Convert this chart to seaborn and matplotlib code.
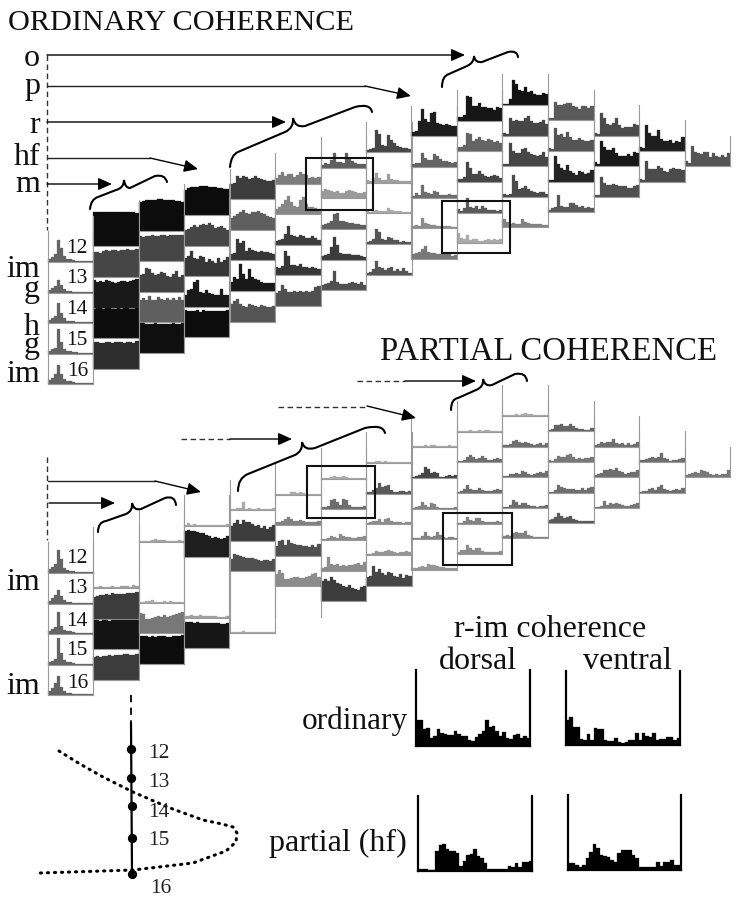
import matplotlib
matplotlib.use('Agg')
import matplotlib.pyplot as plt
import seaborn as sns
import numpy as np
from matplotlib.path import Path
from matplotlib.patches import PathPatch, Rectangle

ord_col0 = [[3,5,8,22,14,6,3,3,2,1,1,1,1,1,1], [3,5,7,13,8,4,2,2,1,1,1,1,1,1,1],
            [3,5,7,20,10,5,2,2,2,1,1,1,1,1,1], [3,5,6,25,12,5,3,3,2,2,1,1,1,1,1],
            [4,6,10,19,10,5,3,3,2,1,1,1,1,1,1]]
ord_col1 = [[34,34,34,34,34,34,34,34,34,34,34,34,34,34,33], [25,25,24,26,27,26,27,27,26,27,27,28,27,27,28],
            [27,25,26,25,27,26,25,24,25,26,26,25,26,27,28], [29,30,30,29,30,30,29,29,30,29,30,30,29,29,30],
            [27,27,26,26,27,27,26,27,27,27,26,27,27,26,28]]
ord_col2 = [[29,30,31,31,31,31,32,32,31,31,31,31,30,30,29], [25,24,25,25,26,25,25,26,26,25,26,26,26,26,26],
            [17,18,24,23,19,17,18,20,19,16,15,18,21,15,17], [22,24,22,26,22,22,25,23,22,24,22,24,22,25,22],
            [30,30,29,29,29,30,29,29,29,29,29,30,29,29,30]]
ord_col3 = [[25,27,28,28,28,29,29,29,28,28,28,27,27,26,26], [16,17,19,21,19,21,22,21,23,21,18,19,20,18,16],
            [18,20,25,18,17,20,19,14,17,15,13,18,14,16,19], [12,17,18,25,27,15,14,17,14,13,12,12,18,12,12],
            [27,26,26,26,27,25,27,26,26,26,26,26,26,26,27]]
ord_col4 = [[15,16,23,21,23,22,20,21,23,21,20,19,18,18,19], [12,14,16,18,20,17,16,18,18,19,17,16,14,13,12],
            [6,7,21,17,19,9,12,10,9,8,9,8,8,7,6], [9,14,12,27,17,12,22,14,12,11,9,8,8,8,8],
            [18,21,23,18,16,15,18,17,16,15,17,16,15,15,16]]
ord_col5 = [[6,9,12,8,10,10,7,9,12,10,9,6,7,6,7], [5,7,10,14,18,12,8,7,14,17,10,7,7,6,5],
            [4,5,6,11,19,10,9,8,10,9,7,7,9,7,5], [8,7,9,24,19,10,10,9,11,8,8,7,8,7,6],
            [13,15,21,17,14,14,15,14,15,14,15,14,15,19,20]]
ord_col6 = [[3,5,4,8,15,6,6,5,15,9,7,5,4,4,4], [7,9,8,7,6,7,5,5,7,8,7,6,5,5,6],
            [4,5,6,8,15,16,8,8,7,6,6,5,5,4,4], [4,5,6,13,23,15,7,6,6,6,5,5,5,4,3],
            [5,6,7,9,19,8,6,6,6,7,8,7,6,8,5]]
ord_col7 = [[2,3,4,22,18,7,6,17,12,9,6,5,4,4,3], [3,2,5,10,5,3,3,9,4,3,3,2,2,2,2],
            [3,1,2,3,2,2,2,5,3,2,2,2,1,1,1], [2,3,5,15,12,5,4,7,6,4,4,2,3,2,2],
            [2,3,6,14,8,7,5,7,8,4,6,4,7,4,2]]
ord_col8 = [[4,5,15,27,17,14,23,24,13,12,11,12,11,10,10], [3,4,4,14,9,7,7,13,11,8,6,6,5,4,5],
            [2,5,3,13,6,5,4,7,6,3,3,3,4,3,3], [2,3,2,10,5,4,3,3,2,2,2,2,2,1,1],
            [5,6,7,10,13,7,6,6,5,5,6,5,6,3,4]]
ord_col9 = [[4,4,6,25,24,15,15,18,14,14,13,13,11,14,13], [4,4,6,18,17,10,12,14,11,10,12,11,9,10,8],
            [3,3,5,20,14,8,8,11,8,6,5,6,7,6,4], [4,2,5,15,6,5,7,4,7,5,3,3,3,2,3],
            [10,5,4,8,3,4,4,2,2,3,4,3,4,3,4]]
ord_col10 = [[1,1,6,25,21,15,14,18,13,14,11,10,10,12,11], [3,2,18,15,16,15,15,18,20,15,13,13,14,16,12],
             [2,2,23,15,13,13,17,18,14,12,11,10,11,14,9], [3,2,3,22,16,8,9,11,8,6,5,4,5,5,3],
             [8,5,3,4,3,3,8,5,4,3,3,3,3,2,2]]
ord_col11 = [[2,2,18,15,15,16,17,17,14,13,11,14,14,12,14], [3,2,23,16,17,14,19,14,11,11,13,11,10,10,11],
             [2,2,26,18,14,12,17,11,9,7,11,10,8,9,12], [2,4,5,17,6,5,5,9,9,7,5,6,4,5,4]]
ord_col12 = [[3,2,23,18,12,11,13,18,11,8,9,9,9,12,11], [4,2,25,19,16,16,18,13,10,10,10,12,10,14,13],
             [2,2,20,14,12,12,13,12,11,11,11,9,9,11,12]]
ord_col13 = [[4,3,26,18,15,15,21,12,10,10,11,8,10,9,14], [3,2,21,13,13,13,16,14,11,10,13,14,13,13,12]]
ord_col14 = [[5,3,20,14,13,12,14,14,9,13,10,9,11,9,13]]

par_col0 = [[4,6,9,23,14,5,3,2,2,1,1,1,1,1,1], [3,6,9,14,8,4,2,2,1,1,1,1,1,1,1],
            [3,5,7,22,8,4,3,3,2,1,1,1,1,1,1], [3,4,6,27,12,5,3,3,2,1,1,1,1,1,1],
            [4,7,12,19,8,4,2,2,1,1,1,1,1,1,1]]
par_col1 = [[], [1,1,2,1,1,1,2,1,1,2,2,2,1,3,2], [22,23,24,24,25,24,26,25,25,25,25,26,26,26,27],
            [29,29,28,29,29,28,29,29,29,29,29,29,29,29,29], [23,24,23,24,24,25,24,25,25,25,26,26,25,25,26]]
par_col2 = [[1,1,1,1,2,3,2,2,2,1,1,1,1,2,1], [], [1,1,2,2,3,1,1,1,2,1,2,1,1,1,1],
            [20,19,14,14,15,16,17,16,18,16,17,18,19,20,21], [28,28,28,27,28,27,28,28,28,27,27,28,28,28,29]]
par_col3 = [[1,3,1,2,1,1,1,1,1,1,1,1,1,1,2], [26,27,26,26,25,24,24,22,21,19,20,19,18,19,21], [],
            [2,2,3,2,2,3,2,2,2,2,2,1,1,1,2], [26,26,26,25,26,25,25,25,25,25,25,25,24,24,25]]
par_col4 = [[1,1,2,2,8,1,2,1,1,2,1,1,1,1,2], [15,18,21,17,21,19,19,17,15,16,13,15,12,14,16],
            [12,17,16,15,14,13,13,13,12,11,10,11,11,10,12], [], [1,1,1,1,2,1,1,1,1,1,1,1,1,1,1]]
par_col5 = [[1,1,1,1,1,3,3,2,3,2,1,1,1,1,1], [3,3,4,6,8,6,4,4,5,4,3,3,3,3,4],
            [10,15,16,11,16,13,12,11,11,10,10,9,11,9,12], [12,16,13,7,7,8,9,9,8,8,9,10,12,13,9], []]
par_col6 = [[1,1,1,2,3,2,2,3,2,1,1,1,1,1,1], [2,2,3,9,10,7,4,10,9,4,2,2,2,2,3],
            [1,1,2,4,3,2,6,4,3,3,2,2,3,3,4], [3,4,14,7,6,7,5,6,5,6,6,7,8,6,9],
            [20,22,20,24,21,18,17,15,14,16,13,12,11,14,15]]
par_col7 = [[1,1,1,2,2,1,2,1,1,1,1,1,1,1,1], [2,2,4,6,11,7,8,9,4,2,2,3,3,2,3],
            [1,2,3,3,5,2,5,6,3,2,2,2,1,2,2], [1,1,2,4,3,3,4,5,4,3,2,3,3,4,3],
            [9,10,20,14,17,13,11,14,13,10,9,12,8,11,10]]
par_col8 = [[1,1,1,1,2,1,2,2,1,1,1,1,2,1,1], [1,2,3,5,11,9,5,6,5,1,1,2,3,2,3],
            [1,2,3,7,4,2,6,5,2,1,1,1,1,1,2], [1,1,1,3,7,3,2,3,7,4,2,1,2,2,1],
            [2,2,3,4,3,6,5,5,4,3,3,2,2,2,2]]
par_col9 = [[1,1,1,1,2,1,1,2,1,2,2,1,1,1,1], [1,1,2,5,7,5,3,4,6,4,2,2,3,4,3],
            [1,2,4,8,4,3,3,5,3,2,2,2,3,4,3], [1,1,3,7,4,3,6,6,3,2,2,2,2,3,2],
            [2,4,4,9,6,4,6,6,3,2,2,2,2,2,3]]
par_col10 = [[1,1,1,1,2,1,2,3,2,2,1,1,1,1,1], [2,2,3,6,7,5,4,5,4,3,2,3,4,2,4],
             [1,1,3,3,4,3,6,5,3,2,3,4,5,4,6], [1,1,3,8,6,3,5,5,3,2,2,1,2,2,3],
             [2,3,2,5,6,5,5,7,3,2,1,1,1,1,1]]
par_col11 = [[1,2,6,6,7,5,5,7,5,3,2,2,1,1,3], [2,1,3,6,5,5,7,8,5,3,4,3,4,4,5],
             [1,1,3,8,6,5,4,4,4,3,3,5,3,5,6], [3,4,6,10,7,5,6,7,4,3,2,2,2,2,2]]
par_col12 = [[2,3,5,4,5,5,8,4,3,4,2,4,2,3,5], [2,3,4,7,7,8,7,9,6,5,3,4,5,5,7],
             [1,1,2,7,3,5,4,5,4,3,2,2,3,4,5]]
par_col13 = [[2,2,3,4,5,4,5,9,4,3,1,2,2,3,4], [1,2,2,4,5,3,6,8,4,3,2,3,4,3,5]]
par_col14 = [[2,3,4,5,4,7,6,5,3,2,3,2,3,3,7]]

ord_gray = [[100]*5, [12,70,25,12,45], [12,70,65,95,15], [12,70,55,25,12], [60,95,55,25,85],
            [125,135,60,55,80], [95,155,95,60,80], [70,160,170,85,85], [30,100,110,140,120],
            [22,100,70,90,170], [18,70,70,75,130], [90,85,35,90], [75,25,80], [30,75], [85]]
par_gray = [[100]*5, [160,160,60,20,60], [165,160,170,120,12], [170,30,170,160,22],
            [170,60,80,170,170], [170,130,80,140,170], [170,110,140,140,60], [170,90,140,150,70],
            [170,70,130,130,150], [170,110,110,130,140], [170,110,110,110,130], [100,120,110,90],
            [110,110,120], [110,110], [120]]

dorsal_ordinary = [26,26,17,18,8,10,17,13,12,11,11,15,12,10,10,6,5,9,12,15,26,19,20,15,10,14,8,7,11,12,8,10,8]
ventral_ordinary = [25,28,18,18,6,5,11,5,17,16,16,5,4,4,7,3,2,3,5,5,12,5,12,9,8,12,5,6,6,8,8,5,7]
dorsal_partial = [2,2,2,1,1,20,26,27,22,20,20,18,5,10,16,17,22,15,13,8,2,2,2,2,2,2,5,4,8,4,9,9,10]
ventral_partial = [7,7,5,3,5,12,18,26,22,15,14,13,10,8,17,20,20,20,15,12,3,3,3,3,3,8,4,8,8,10,5,5]

site_labels = ['12', '13', '14', '15', '16']
ordinary = [ord_col0, ord_col1, ord_col2, ord_col3, ord_col4, ord_col5, ord_col6, ord_col7,
            ord_col8, ord_col9, ord_col10, ord_col11, ord_col12, ord_col13, ord_col14]
partial = [par_col0, par_col1, par_col2, par_col3, par_col4, par_col5, par_col6, par_col7,
           par_col8, par_col9, par_col10, par_col11, par_col12, par_col13, par_col14]

sns.set_theme(style='white')
plt.rcParams['font.family'] = ['Liberation Serif', 'DejaVu Serif']

W, H = 737, 899
fig = plt.figure(figsize=(W / 100, H / 100), dpi=100, facecolor='white')


def px_axes(x0, y_top, x1, y_bottom):
    return fig.add_axes([x0 / W, 1 - y_bottom / H, (x1 - x0) / W, (y_bottom - y_top) / H])


def bars(ax, values, color, top):
    if len(values):
        sns.barplot(x=np.arange(len(values)), y=values, color=color, saturation=1, width=1,
                    linewidth=0.2, edgecolor=color, ax=ax)
        ax.set_xlim(-0.5, len(values) - 0.5)
    for p in ax.patches:
        p.set_clip_on(False)
    ax.set_ylim(0, top)
    ax.set(xticks=[], yticks=[], xlabel='', ylabel='')
    ax.patch.set_visible(False)


def draw_triangle(heights, grays, y_offset):
    col_w, row_h = 45.5, 30.6
    for c, column in enumerate(heights):
        first = 105 + (15.7 if c < 10 else 15.3) * abs(c - 10) + y_offset
        for r, values in enumerate(column):
            y_bottom = first + r * row_h
            x0 = 47.5 + c * col_w
            ax = px_axes(x0, y_bottom - row_h, x0 + col_w, y_bottom)
            g = grays[c][r] / 255
            bars(ax, values, (g, g, g), row_h)
            for side in ['left', 'right', 'bottom']:
                ax.spines[side].set_visible(True)
                ax.spines[side].set_color('#999999')
                ax.spines[side].set_linewidth(0.8)
            ax.spines['top'].set_visible(False)
            # blank cells show no baseline in the reference
            ax.spines['bottom'].set_visible(len(values) > 0)


draw_triangle(ordinary, ord_gray, 0)
draw_triangle(partial, par_gray, 311)

# r-im panels
panels = [(dorsal_ordinary, 416, 670, 530, 746), (ventral_ordinary, 566, 671, 680, 745),
          (dorsal_partial, 418, 796, 532, 871), (ventral_partial, 568, 795, 681, 870)]
for values, x0, y0, x1, y1 in panels:
    ax = px_axes(x0, y0, x1, y1)
    bars(ax, values, 'black', y1 - y0)
    for side in ['left', 'right', 'bottom']:
        ax.spines[side].set_visible(True)
        ax.spines[side].set_color('black')
        ax.spines[side].set_linewidth(1.6)
    ax.spines['top'].set_visible(False)

# annotations sit on one overlay in pixel coordinates
ov = fig.add_axes([0, 0, 1, 1], zorder=10)
ov.set_xlim(0, W)
ov.set_ylim(H, 0)
ov.axis('off')
ov.patch.set_visible(False)

def arrow(points, lw=1.0):
    xs = [p[0] for p in points]
    ys = [p[1] for p in points]
    ov.plot(xs[:-1], ys[:-1], color='#222222', lw=lw)
    ov.annotate('', xy=points[-1], xytext=points[-2],
                arrowprops=dict(arrowstyle='-|>,head_length=0.38,head_width=0.17', color='black',
                                lw=lw, mutation_scale=22, shrinkA=0, shrinkB=0))

def brace(p):
    codes = [Path.MOVETO, Path.CURVE3, Path.CURVE3, Path.LINETO, Path.CURVE3, Path.CURVE3,
             Path.CURVE3, Path.CURVE3, Path.LINETO, Path.CURVE3, Path.CURVE3]
    ov.add_patch(PathPatch(Path(p, codes), fc='none', ec='black', lw=1.5, capstyle='round'))

arrow([(47, 55), (465, 55)])
arrow([(47, 86), (365, 86), (411, 96)])
arrow([(47, 122), (286, 122)])
arrow([(47, 158), (150, 158), (198, 169)])
arrow([(47, 184), (112, 184)])
arrow([(48, 481), (155, 481), (201, 492)])
arrow([(49, 503), (115, 503)])
arrow([(405, 381), (476, 381)])
arrow([(367, 406), (416, 418)])
arrow([(230, 439), (292, 439)])
for x0, y0, x1, y1 in [(357, 381, 405, 381), (278, 407, 367, 407), (181, 439, 230, 439),
                       (47, 55, 47, 230), (47, 457, 47, 540)]:
    ov.plot([x0, x1], [y0, y1], color='#333333', lw=1.0, ls=(0, (4, 2.5)))

brace([(90,209),(91,199),(98,197),(116,190),(124,188),(124,180),(125,188),(130,188),(155,176),(165,174),(167,182)])
brace([(230,167),(231,155),(238,152),(285,132),(294,128),(293,118),(295,128),(305,126),(355,107),(370,103),(372,112)])
brace([(442,87),(442,76),(449,74),(467,66),(474,63),(474,56),(475,63),(482,62),(508,52),(517,50),(518,57)])
brace([(98,532),(98,522),(106,521),(126,514),(133,511),(132,503),(134,511),(141,509),(165,498),(175,495),(176,505)])
brace([(238,491),(238,478),(248,474),(295,455),(303,451),(302,442),(304,451),(315,448),(365,428),(383,424),(385,433)])
brace([(451,410),(451,399),(458,398),(476,390),(484,387),(483,379),(485,387),(492,385),(515,374),(526,372),(527,381)])

for x0, y0, x1, y1 in [(306, 158, 373, 210), (442, 201, 510, 253), (307, 466, 375, 518), (443, 513, 512, 565)]:
    ov.add_patch(Rectangle((x0, y0), x1 - x0, y1 - y0, fc='none', ec='#111111', lw=1.5))

ov.text(8, 30, 'ORDINARY COHERENCE', fontsize=21.8, ha='left', va='baseline', color='#111111')
ov.text(380, 360, 'PARTIAL COHERENCE', fontsize=23.6, ha='left', va='baseline', color='#111111')

for label, y in [('o', 66), ('p', 94), ('r', 133), ('hf', 165), ('m', 192), ('im', 277), ('g', 297),
                 ('h', 335), ('g', 353), ('im', 382), ('im', 590), ('im', 694)]:
    ov.text(40, y, label, fontsize=23, ha='right', va='baseline', color='#111111')

for label, y in zip(site_labels, [253, 283, 314, 345, 376]):
    ov.text(88, y, label, fontsize=15.5, ha='right', va='baseline', color='#111111')
for label, y in zip(site_labels, [563, 593, 626, 655, 688]):
    ov.text(88, y, label, fontsize=15.5, ha='right', va='baseline', color='#111111')

ov.text(550, 637, 'r-im coherence', fontsize=23, ha='center', va='baseline', color='#111111')
ov.text(478, 669, 'dorsal', fontsize=23, ha='center', va='baseline', color='#111111')
ov.text(627, 669, 'ventral', fontsize=23, ha='center', va='baseline', color='#111111')
ov.text(408, 729, 'ordinary', fontsize=22.5, ha='right', va='baseline', color='#111111')
ov.text(407, 851, 'partial (hf)', fontsize=23, ha='right', va='baseline', color='#111111')

# electrode track and the cortical outline
ov.plot([131, 131], [695, 723], color='black', lw=1.3, ls=(0, (4, 3)))
ov.plot([131, 132], [723, 874], color='black', lw=1.6)
track_y = [749, 778, 806, 838, 874]
ov.scatter([131, 131, 132, 132, 132], track_y, s=32, color='black', zorder=3)
for label, x, y in zip(site_labels, [148, 148, 148, 148, 150], [758, 787, 817, 845, 893]):
    ov.text(x, y, label, fontsize=15.5, ha='left', va='baseline', color='#222222')
outline_x = [59, 80, 103, 133, 170, 203, 222, 233, 237, 236, 226, 193, 133, 40]
outline_y = [751, 764, 777, 792, 808, 820, 824, 827, 833, 842, 851, 863, 870, 873]
ov.plot(outline_x, outline_y, color='black', lw=2.2, ls=(0, (0.4, 1.9)), dash_capstyle='round')

fig.savefig('out.png', dpi=100)
